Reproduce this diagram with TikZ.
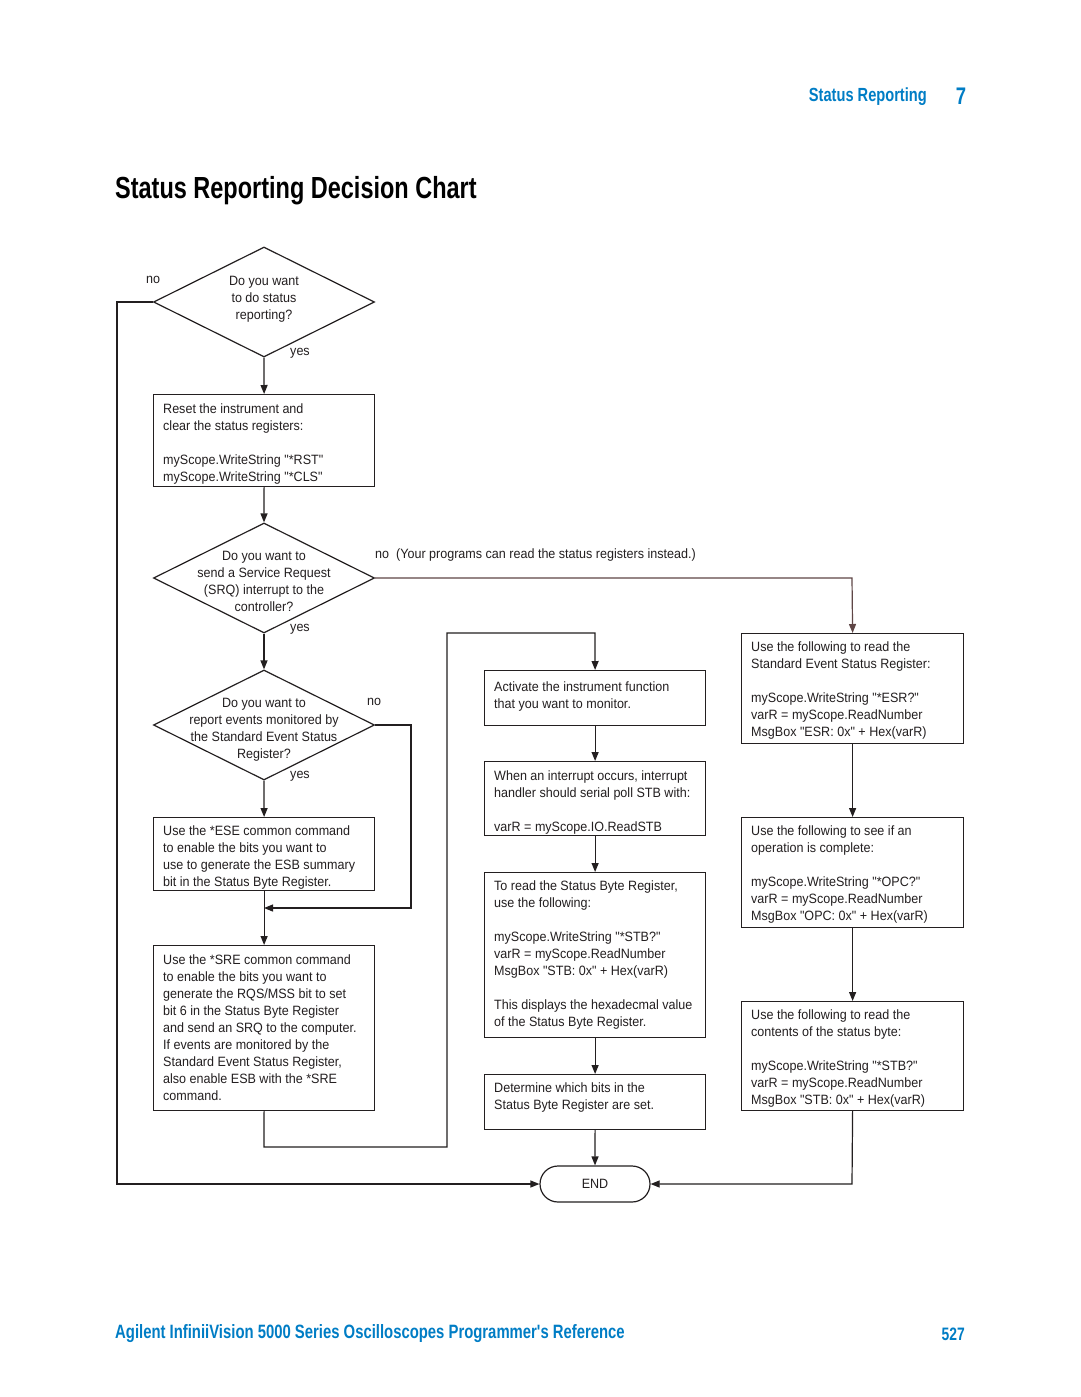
\documentclass[tikz,border=0pt]{standalone}
\usepackage{fontspec}
\newfontfamily\bodyfont{Liberation Sans}[FakeStretch=0.93]
\newfontfamily\condfont{Liberation Sans}[FakeStretch=0.77]
\usetikzlibrary{arrows.meta,shapes.misc,shapes.geometric,calc}
\definecolor{txtc}{RGB}{35,31,32}
\definecolor{brownl}{RGB}{95,70,70}
\definecolor{agblue}{RGB}{0,125,197}
\begin{document}
\begin{tikzpicture}[x=1pt,y=-1pt,
  box/.style={draw=txtc, line width=1.2pt, inner sep=0pt, anchor=north west, minimum width=221pt},
  dia/.style={draw=txtc, line width=1.2pt, diamond, inner sep=0pt, minimum width=221pt, minimum height=110pt},
  txt/.style={inner sep=0pt, align=left, anchor=north west, text=txtc, font=\bodyfont\fontsize{13.5}{17}\selectfont},
  ctxt/.style={inner sep=0pt, align=center, anchor=north, text=txtc, font=\bodyfont\fontsize{13.5}{17}\selectfont},
  lab/.style={inner sep=0pt, text=txtc, font=\bodyfont\fontsize{13.5}{17}\selectfont},
  conn/.style={draw=txtc, line width=1.2pt},
  arr/.style={conn, -{Triangle[length=9pt,width=7pt]}},
  endst/.style={draw=txtc, line width=1.2pt, rounded rectangle, minimum width=110pt, minimum height=36pt, inner sep=0pt, text=txtc, font=\bodyfont\fontsize{13.5}{17}\selectfont}
]
\fill[white] (0,0) rectangle (1080,1397);
\useasboundingbox (0,0) rectangle (1080,1397);

% header / title / footer
\node[anchor=east, inner sep=0pt, text=agblue, font=\condfont\bfseries\fontsize{19}{22}\selectfont] (hdr) at (927,97) {Status Reporting};
\node[anchor=center, inner sep=0pt, text=agblue, font=\condfont\bfseries\fontsize{24}{26}\selectfont] (chap) at (961,96) {7};
\node[anchor=west, inner sep=0pt, text=black, font=\condfont\bfseries\fontsize{30.5}{34}\selectfont] (title) at (115,191) {Status Reporting Decision Chart};
\node[anchor=west, inner sep=0pt, text=agblue, font=\condfont\bfseries\fontsize{19.3}{21}\selectfont] (foot) at (115,1334) {Agilent InfiniiVision 5000 Series Oscilloscopes Programmer's Reference};
\node[anchor=east, inner sep=0pt, text=agblue, font=\condfont\bfseries\fontsize{18}{20}\selectfont] (pg) at (965,1334) {527};

% diamonds
\node[dia] (d1) at (264,302) {};
\node[ctxt] (d1t) at (264,273) {\strut Do you want\\to do status\\reporting?};
\node[dia] (d2) at (264,578) {};
\node[ctxt] (d2t) at (264,548) {\strut Do you want to\\send a Service Request\\(SRQ) interrupt to the\\controller?};
\node[dia] (d3) at (264,725) {};
\node[ctxt] (d3t) at (264,695) {\strut Do you want to\\report events monitored by\\the Standard Event Status\\Register?};

% labels
\node[lab] (n1) at (153,280) {no};
\node[lab] (y1) at (300,353) {yes};
\node[lab, anchor=west] (n2) at (375,555) {no\ \ (Your programs can read the status registers instead.)};
\node[lab] (y2) at (300,629) {yes};
\node[lab] (n3) at (374,702) {no};
\node[lab] (y3) at (300,776) {yes};

% left column boxes
\node[box, minimum height=92pt] (b1) at (153,394) {};
\node[txt] (b1t) at (163,401) {\strut Reset the instrument and\\clear the status registers:\\[17pt]myScope.WriteString "*RST"\\myScope.WriteString "*CLS"};
\node[box, minimum height=73pt] (b2) at (153,817) {};
\node[txt] (b2t) at (163,823) {\strut Use the *ESE common command\\to enable the bits you want to\\use to generate the ESB summary\\bit in the Status Byte Register.};
\node[box, minimum height=165pt] (b3) at (153,945) {};
\node[txt] (b3t) at (163,952) {\strut Use the *SRE common command\\to enable the bits you want to\\generate the RQS/MSS bit to set\\bit 6 in the Status Byte Register\\and send an SRQ to the computer.\\If events are monitored by the\\Standard Event Status Register,\\also enable ESB with the *SRE\\command.};

% middle column boxes
\node[box, minimum height=55pt] (m1) at (484,670) {};
\node[txt] (m1t) at (494,679) {\strut Activate the instrument function\\that you want to monitor.};
\node[box, minimum height=74pt] (m2) at (484,761) {};
\node[txt] (m2t) at (494,768) {\strut When an interrupt occurs, interrupt\\handler should serial poll STB with:\\[17pt]varR = myScope.IO.ReadSTB};
\node[box, minimum height=165pt] (m3) at (484,872) {};
\node[txt] (m3t) at (494,878) {\strut To read the Status Byte Register,\\use the following:\\[17pt]myScope.WriteString "*STB?"\\varR = myScope.ReadNumber\\MsgBox "STB: 0x" + Hex(varR)\\[17pt]This displays the hexadecmal value\\of the Status Byte Register.};
\node[box, minimum height=55pt] (m4) at (484,1074) {};
\node[txt] (m4t) at (494,1080) {\strut Determine which bits in the\\Status Byte Register are set.};

% right column boxes
\node[box, minimum width=222pt, minimum height=110pt] (r1) at (741,633) {};
\node[txt] (r1t) at (751,639) {\strut Use the following to read the\\Standard Event Status Register:\\[17pt]myScope.WriteString "*ESR?"\\varR = myScope.ReadNumber\\MsgBox "ESR: 0x" + Hex(varR)};
\node[box, minimum width=222pt, minimum height=110pt] (r2) at (741,817) {};
\node[txt] (r2t) at (751,823) {\strut Use the following to see if an\\operation is complete:\\[17pt]myScope.WriteString "*OPC?"\\varR = myScope.ReadNumber\\MsgBox "OPC: 0x" + Hex(varR)};
\node[box, minimum width=222pt, minimum height=109pt] (r3) at (741,1001) {};
\node[txt] (r3t) at (751,1007) {\strut Use the following to read the\\contents of the status byte:\\[17pt]myScope.WriteString "*STB?"\\varR = myScope.ReadNumber\\MsgBox "STB: 0x" + Hex(varR)};

% END
\node[endst] (end) at (595,1184) {END};

% helper coordinates
\coordinate (lft1) at (117,302);
\coordinate (lft2) at (117,1184);
\coordinate (rt1) at (852,578);
\coordinate (rt2) at (852,1184);
\coordinate (nr1) at (411,725);
\coordinate (nr2) at (411,908);
\coordinate (join) at (264,908);
\coordinate (lp1) at (264,1147);
\coordinate (lp2) at (447,1147);
\coordinate (lp3) at (447,633);
\coordinate (lp4) at (595,633);

% connectors
\draw[arr] (d1.south) -- (b1.north);
\draw[arr] (b1.south) -- (d2.north);
\draw[arr] (d2.south) -- (d3.north);
\draw[arr] (d3.south) -- (b2.north);
\draw[arr] (b2.south) -- (b3.north);
\draw[arr] (d3.east) -- (nr1) -- (nr2) -- (join);
\draw[arr] (b3.south) -- (lp1) -- (lp2) -- (lp3) -- (lp4) -- (m1.north);
\draw[arr] (m1.south) -- (m2.north);
\draw[arr] (m2.south) -- (m3.north);
\draw[arr] (m3.south) -- (m4.north);
\draw[arr] (m4.south) -- (end.north);
\draw[arr] (d1.west) -- (lft1) -- (lft2) -- (end.west);
\draw[arr, draw=brownl] (d2.east) -- (rt1) -- (r1.north);
\draw[arr] (r1.south) -- (r2.north);
\draw[arr] (r2.south) -- (r3.north);
\draw[arr] (r3.south) -- (rt2) -- (end.east);
\end{tikzpicture}
\end{document}
